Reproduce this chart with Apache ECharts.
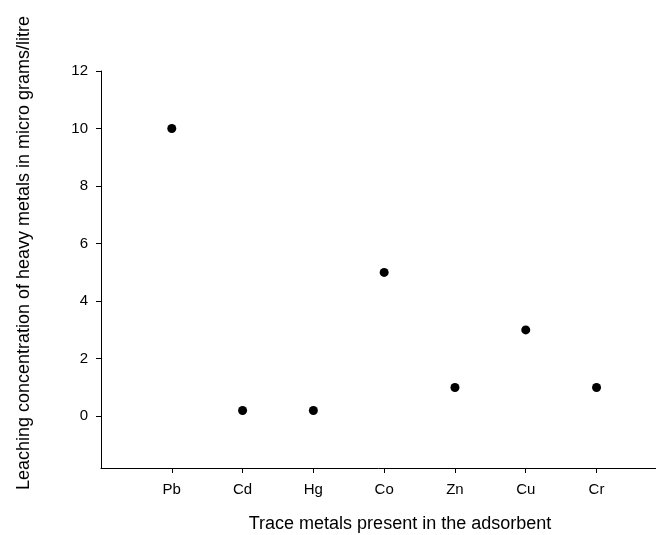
<!DOCTYPE html>
<html><head><meta charset="utf-8">
<script src="https://cdn.jsdelivr.net/npm/echarts@6/dist/echarts.min.js"></script>
<style>html,body{margin:0;padding:0;background:#fff}#c{width:656px;height:535px}</style>
</head><body><div id="c"></div>
<script>
const metals = ['Pb', 'Cd', 'Hg', 'Co', 'Zn', 'Cu', 'Cr'];
const positions = [1, 2, 3, 4, 5, 6, 7];
const values = [10, 0.2, 0.2, 5, 1, 3, 1];
const yTicks = [0, 2, 4, 6, 8, 10, 12];
const xTitle = 'Trace metals present in the adsorbent';
const yTitle = 'Leaching concentration of heavy metals in micro grams/litre';

const chart = echarts.init(document.getElementById('c'), null, {renderer: 'canvas'});
const font = 'Liberation Sans, Arial, sans-serif';
chart.setOption({
  animation: false,
  backgroundColor: '#fff',
  grid: {left: 101, right: 0, top: 71, bottom: 67, containLabel: false},
  xAxis: {
    type: 'value', min: 0, max: 7.84,
    axisLine: {show: true, onZero: false, lineStyle: {color: '#000', width: 1}},
    axisTick: {show: true, length: 5, lineStyle: {color: '#000'}, customValues: positions},
    axisLabel: {color: '#000', fontFamily: font, fontSize: 15, margin: 14, customValues: positions,
      formatter: (v) => metals[Math.round(v) - 1] || ''},
    splitLine: {show: false}
  },
  yAxis: {
    type: 'value', min: -1.8, max: 12,
    axisLine: {show: true, onZero: false, lineStyle: {color: '#000', width: 1}},
    axisTick: {show: true, length: 5, lineStyle: {color: '#000'}, customValues: yTicks},
    axisLabel: {color: '#000', fontFamily: font, fontSize: 15, margin: 13, customValues: yTicks},
    splitLine: {show: false}
  },
  series: [{
    type: 'scatter',
    data: positions.map((p, i) => [p, values[i]]),
    symbol: 'circle', symbolSize: 9,
    itemStyle: {color: '#000', opacity: 1}
  }],
  graphic: [
    {type: 'text', x: 400, y: 524, style: {text: xTitle, fontFamily: font, fontSize: 18, fill: '#000', align: 'center', verticalAlign: 'middle'}},
    {type: 'text', x: 24, y: 253, rotation: Math.PI / 2, style: {text: yTitle, fontFamily: font, fontSize: 18, fill: '#000', align: 'center', verticalAlign: 'middle'}}
  ]
});
</script></body></html>
